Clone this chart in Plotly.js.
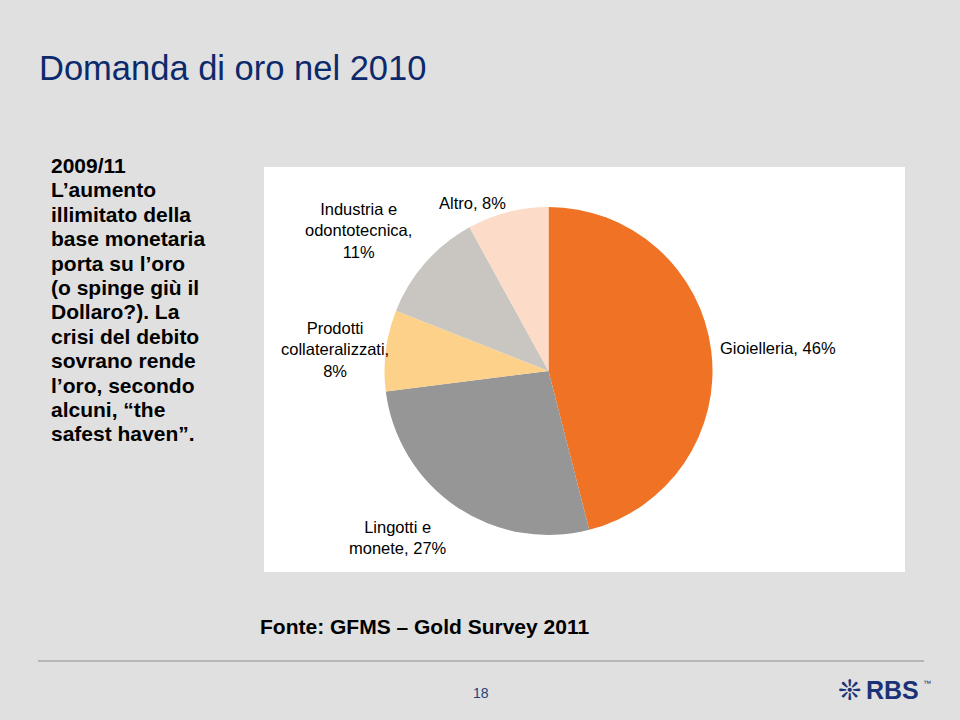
<!DOCTYPE html>
<html>
<head>
<meta charset="utf-8">
<script src="https://cdn.plot.ly/plotly-3.0.1.min.js"></script>
<style>html,body{margin:0;padding:0;background:#e0e0e0;}#chart{width:960px;height:720px;}</style>
</head>
<body>
<div id="chart"></div>
<script>
// ---- data ----
const categories = ['Gioielleria', 'Lingotti e monete', 'Prodotti collateralizzati', 'Industria e odontotecnica', 'Altro'];
const values = [46, 27, 8, 11, 8];
const labelText = ['Gioielleria', 'Lingotti e<br>monete', 'Prodotti<br>collateralizzati', 'Industria e<br>odontotecnica', 'Altro'];
const labelSep = [', ', ', ', ',<br>', ',<br>', ', '];
const sliceColors = ['#f07224', '#969696', '#fdd18a', '#c9c6c1', '#fcdcc8'];
const titleText = 'Domanda di oro nel 2010';
const sideLines = ['2009/11', 'L\u2019aumento', 'illimitato della', 'base monetaria', 'porta su l\u2019oro',
  '(o spinge giù il', 'Dollaro?). La', 'crisi del debito', 'sovrano rende', 'l\u2019oro, secondo',
  'alcuni, \u201cthe', 'safest haven\u201d.'];
const sourceText = 'Fonte: GFMS \u2013 Gold Survey 2011';
const pageNumber = '18';

// ---- layout helpers (pixel -> paper) ----
const W = 960, H = 720;
const px = x => x / W;
const py = y => 1 - y / H;
const labelPos = [[778, 348], [398, 537], [335, 349], [358, 231], [472, 203]];

const cx = 548.5, cy = 371, R = 164;

const trace = {
  type: 'pie',
  labels: categories,
  values: values,
  sort: false,
  direction: 'clockwise',
  rotation: 0,
  textinfo: 'none',
  hoverinfo: 'skip',
  showlegend: false,
  marker: {colors: sliceColors, line: {width: 0}},
  domain: {x: [px(cx - R), px(cx + R)], y: [py(cy + R), py(cy - R)]}
};

const annotations = [];
// title
annotations.push({text: titleText, xref: 'paper', yref: 'paper', x: px(36.5), y: py(67.5),
  xanchor: 'left', yanchor: 'middle', showarrow: false,
  font: {family: 'Liberation Sans, Arial, sans-serif', size: 34.5, color: '#0c2a6b'}});
// side text
sideLines.forEach((t, i) => {
  annotations.push({text: '<b>' + t + '</b>', xref: 'paper', yref: 'paper', x: px(49), y: py(173 + i * 24.4 - 7.5),
    xanchor: 'left', yanchor: 'middle', showarrow: false,
    font: {family: 'Liberation Sans, Arial, sans-serif', size: 21, color: '#000000'}});
});
// pie labels
categories.forEach((c, i) => {
  annotations.push({text: labelText[i] + labelSep[i] + values[i] + '%', xref: 'paper', yref: 'paper',
    x: px(labelPos[i][0]), y: py(labelPos[i][1]), xanchor: 'center', yanchor: 'middle', align: 'center',
    showarrow: false, font: {family: 'Liberation Sans, Arial, sans-serif', size: 16.5, color: '#000000'}});
});
// source
annotations.push({text: '<b>' + sourceText + '</b>', xref: 'paper', yref: 'paper', x: px(258), y: py(626),
  xanchor: 'left', yanchor: 'middle', showarrow: false,
  font: {family: 'Liberation Sans, Arial, sans-serif', size: 21, color: '#000000'}});
// page number
annotations.push({text: pageNumber, xref: 'paper', yref: 'paper', x: px(481), y: py(693),
  xanchor: 'center', yanchor: 'middle', showarrow: false,
  font: {family: 'Liberation Sans, Arial, sans-serif', size: 14, color: '#22417a'}});
// logo
annotations.push({text: '\u274a', xref: 'paper', yref: 'paper', x: px(849), y: py(690),
  xanchor: 'center', yanchor: 'middle', showarrow: false,
  font: {family: 'DejaVu Sans, sans-serif', size: 28, color: '#1b3277'}});
annotations.push({text: '<b>RBS</b>', xref: 'paper', yref: 'paper', x: px(864), y: py(690),
  xanchor: 'left', yanchor: 'middle', showarrow: false,
  font: {family: 'Liberation Sans, Arial, sans-serif', size: 25, color: '#1b3277'}});
annotations.push({text: '\u2122', xref: 'paper', yref: 'paper', x: px(921), y: py(683),
  xanchor: 'left', yanchor: 'middle', showarrow: false,
  font: {family: 'Liberation Sans, Arial, sans-serif', size: 8, color: '#1b3277'}});

const layout = {
  width: W, height: H,
  margin: {l: 0, r: 0, t: 0, b: 0},
  paper_bgcolor: '#e0e0e0',
  plot_bgcolor: '#e0e0e0',
  showlegend: false,
  shapes: [
    {type: 'rect', xref: 'paper', yref: 'paper', x0: px(264), x1: px(905), y0: py(572), y1: py(167),
      fillcolor: '#ffffff', line: {width: 0}, layer: 'below'},
    {type: 'line', xref: 'paper', yref: 'paper', x0: px(38), x1: px(924), y0: py(661), y1: py(661),
      line: {color: '#a8a8a8', width: 1.5}}
  ],
  annotations: annotations
};

Plotly.newPlot('chart', [trace], layout, {staticPlot: true, displayModeBar: false});
</script>
</body>
</html>
